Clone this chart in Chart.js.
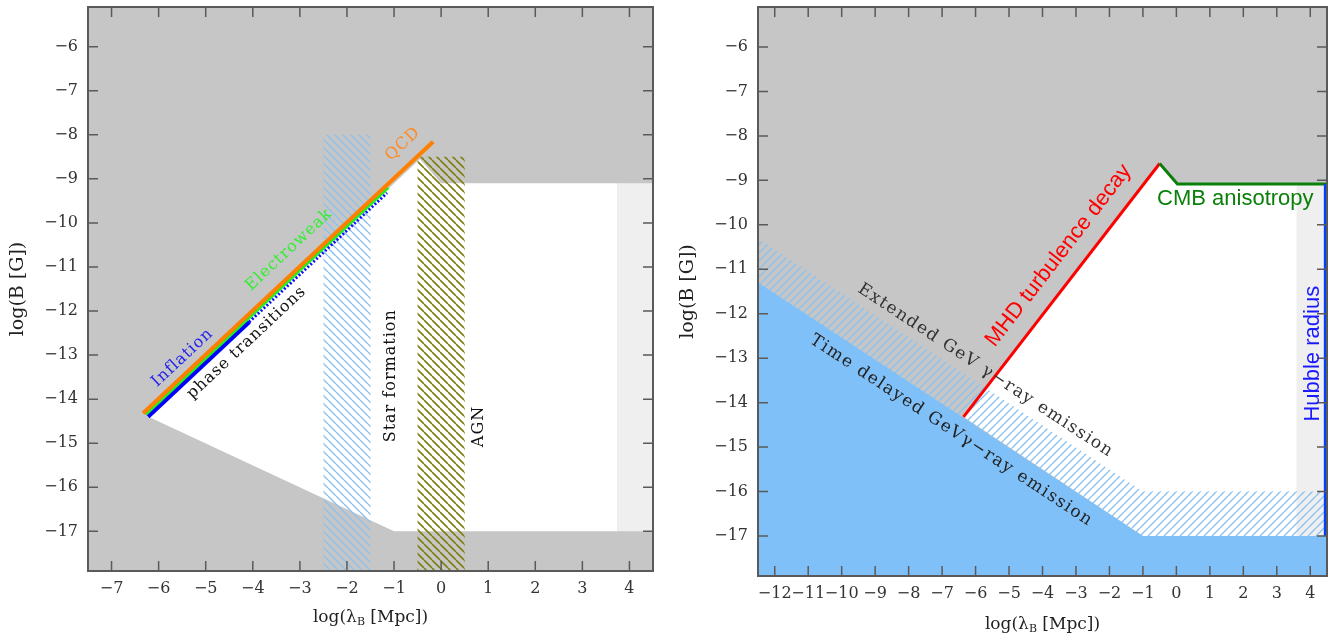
<!DOCTYPE html>
<html>
<head>
<meta charset="utf-8">
<script src="https://cdn.jsdelivr.net/npm/chart.js@4.4.0/dist/chart.umd.min.js"></script>
<style>
  html, body { margin: 0; padding: 0; background: #fff; }
  #wrap { position: relative; width: 1338px; height: 641px; overflow: hidden; }
  canvas { position: absolute; top: 0; }
  #left { left: 0; width: 665px; height: 641px; }
  #right { left: 668px; width: 670px; height: 641px; }
</style>
</head>
<body>
<div id="wrap">
  <canvas id="left" width="665" height="641"></canvas>
  <canvas id="right" width="670" height="641"></canvas>
</div>
<script>
// axis ranges and ticks
const xRangeL = [-7.5, 4.5];
const xRangeR = [-12.5, 4.5];
const yRange = [-17.9, -5.1];
const xTicksL = [-7, -6, -5, -4, -3, -2, -1, 0, 1, 2, 3, 4];
const xTicksR = [-12, -11, -10, -9, -8, -7, -6, -5, -4, -3, -2, -1, 0, 1, 2, 3, 4];
const yTicks = [-17, -16, -15, -14, -13, -12, -11, -10, -9, -8, -7, -6];

// left panel: [log lambda, log B]
const allowedL = [[-6.25, -14.38], [-0.45, -8.55], [0.0, -9.1], [3.75, -9.1], [3.75, -17], [-1, -17]];
const stripL = [[3.75, -9.1], [4.5, -9.1], [4.5, -17], [3.75, -17]];
const starBand = [[-2.5, -8.0], [-1.5, -8.0], [-1.5, -17.9], [-2.5, -17.9]];
const agnBand = [[-0.5, -8.5], [0.5, -8.5], [0.5, -17.9], [-0.5, -17.9]];
const qcdLine = [[-6.33, -14.32], [-0.17, -8.16]];
const ewLine = [[-6.28, -14.34], [-1.13, -9.19]];
const inflLine = [[-6.23, -14.39], [-4.08, -12.24]];
const ptLine = [[-4.08, -12.25], [-1.15, -9.32]];

// right panel
const allowedR = [[-6.36, -14.32], [-0.5, -8.62], [0.03, -9.08], [3.6, -9.08], [3.6, -17], [-1, -17]];
const stripR = [[3.6, -9.08], [4.5, -9.08], [4.5, -17], [3.6, -17]];
const extendedR = [[-12.5, -10.3], [-1, -16], [4.5, -16], [4.5, -17.9], [-12.5, -17.9]];
const delayedR = [[-12.5, -11.3], [-1, -17], [4.5, -17], [4.5, -17.9], [-12.5, -17.9]];
const mhdLine = [[-6.36, -14.32], [-0.5, -8.62]];
const cmbLine = [[-0.5, -8.62], [0.03, -9.08], [4.5, -9.08]];
const hubbleLine = [[4.45, -9.08], [4.45, -17]];

const SERIF = '"DejaVu Serif", serif';
const SANS = '"Liberation Sans", Arial, sans-serif';
Chart.defaults.font.family = SERIF;

const pts = (a) => a.map(([x, y]) => ({ x, y }));
const box = (xr) => [[xr[0], yRange[0]], [xr[1], yRange[0]], [xr[1], yRange[1]], [xr[0], yRange[1]]];
const fmtTick = (v) => (v < 0 ? '\u2212' + Math.abs(v) : String(v));

function hatch(ctx, color, dir, size, lw) {
  const c = document.createElement('canvas');
  c.width = c.height = size;
  const g = c.getContext('2d');
  g.strokeStyle = color;
  g.lineWidth = lw;
  g.beginPath();
  for (let k = -1; k <= 1; k++) {
    if (dir === '\\') { g.moveTo(k * size, 0); g.lineTo(k * size + size, size); }
    else { g.moveTo(k * size, size); g.lineTo(k * size + size, 0); }
  }
  g.stroke();
  return ctx.createPattern(c, 'repeat');
}

const area = (data, color) => ({
  data: pts(data), fill: 'shape', backgroundColor: color,
  borderColor: 'rgba(0,0,0,0)', borderWidth: 0, pointRadius: 0,
});
const curve = (data, color, width, dash) => ({
  data: pts(data), fill: false, borderColor: color, borderWidth: width,
  borderDash: dash || [], pointRadius: 0, borderCapStyle: 'butt',
});

function decor(notes, titleGap) {
  return {
    id: 'decor',
    afterDatasetsDraw(chart) {
      const { ctx, chartArea: a, scales: { x, y } } = chart;
      ctx.save();
      // inward ticks on all four sides + frame
      ctx.strokeStyle = '#5a5a5a';
      ctx.lineWidth = 1.5;
      ctx.beginPath();
      x.ticks.forEach((t) => {
        const p = x.getPixelForValue(t.value);
        ctx.moveTo(p, a.bottom); ctx.lineTo(p, a.bottom - 10);
        ctx.moveTo(p, a.top); ctx.lineTo(p, a.top + 10);
      });
      y.ticks.forEach((t) => {
        const p = y.getPixelForValue(t.value);
        ctx.moveTo(a.left, p); ctx.lineTo(a.left + 10, p);
        ctx.moveTo(a.right, p); ctx.lineTo(a.right - 10, p);
      });
      ctx.stroke();
      ctx.lineWidth = 2;
      ctx.strokeRect(a.left, a.top, a.width, a.height);

      // text notes
      notes.forEach((n) => {
        const px = x.getPixelForValue(n.at[0]);
        const py = y.getPixelForValue(n.at[1]);
        let ang = n.angle || 0;
        if (n.along) {
          const [p, q] = n.along;
          ang = Math.atan2(y.getPixelForValue(q[1]) - y.getPixelForValue(p[1]),
                           x.getPixelForValue(q[0]) - x.getPixelForValue(p[0])) * 180 / Math.PI;
        }
        ctx.save();
        ctx.translate(px, py);
        ctx.rotate(ang * Math.PI / 180);
        ctx.font = n.font;
        ctx.fillStyle = n.color;
        ctx.letterSpacing = n.spacing || '0px';
        ctx.textAlign = 'center';
        ctx.textBaseline = 'middle';
        ctx.fillText(n.text, 0, 0);
        ctx.restore();
      });

      // x axis title with subscript
      const big = '17px ' + SERIF, small = '11px ' + SERIF;
      const parts = [['log(\u03bb', big, 0], ['B', small, 4], [' [Mpc])', big, 0]];
      let w = 0;
      parts.forEach((p) => { ctx.font = p[1]; w += ctx.measureText(p[0]).width; });
      let cx = (a.left + a.right) / 2 - w / 2;
      const cy = a.bottom + titleGap;
      ctx.fillStyle = '#222';
      ctx.textAlign = 'left';
      ctx.textBaseline = 'middle';
      parts.forEach((p) => {
        ctx.font = p[1];
        ctx.fillText(p[0], cx, cy + p[2]);
        cx += ctx.measureText(p[0]).width;
      });
      ctx.restore();
    },
  };
}

function makeChart(id, xr, xTicks, datasets, notes, dims) {
  const n = datasets.length;
  datasets.forEach((d, i) => { d.order = n - i; d.tension = 0; });
  return new Chart(document.getElementById(id), {
    type: 'line',
    data: { datasets },
    options: {
      responsive: false,
      animation: false,
      layout: { padding: { top: 7, right: dims.right, left: 0, bottom: 0 } },
      plugins: { legend: { display: false }, tooltip: { enabled: false } },
      scales: {
        x: {
          type: 'linear', min: xr[0], max: xr[1],
          afterBuildTicks: (s) => { s.ticks = xTicks.map((v) => ({ value: v })); },
          afterFit: (s) => { s.height = dims.bottom; s.paddingLeft = 0; s.paddingRight = 0; },
          ticks: { autoSkip: false, maxRotation: 0, minRotation: 0, padding: 8, color: '#333',
                   font: { size: 16, family: SERIF }, callback: fmtTick },
          grid: { display: false, drawTicks: false },
          border: { display: false },
        },
        y: {
          type: 'linear', min: yRange[0], max: yRange[1],
          afterBuildTicks: (s) => { s.ticks = yTicks.map((v) => ({ value: v })); },
          afterFit: (s) => { s.width = dims.left; s.paddingTop = 0; s.paddingBottom = 0; },
          ticks: { padding: 10, color: '#333', font: { size: 16, family: SERIF }, callback: fmtTick },
          grid: { display: false, drawTicks: false },
          border: { display: false },
          title: { display: true, text: 'log(B [G])', color: '#222',
                   font: { size: 19, family: SERIF }, padding: { top: dims.titlePad, bottom: 0 } },
        },
      },
    },
    plugins: [decor(notes, dims.titleGap)],
  });
}

// ---- left panel
const ctxL = document.getElementById('left').getContext('2d');
makeChart('left', xRangeL, xTicksL, [
  area(box(xRangeL), '#c6c6c6'),
  area(allowedL, '#ffffff'),
  area(stripL, '#efefef'),
  area(starBand, hatch(ctxL, '#8cc2f0', '\\', 8, 1.4)),
  area(agnBand, hatch(ctxL, '#7f7f10', '\\', 8, 1.6)),
  curve(ptLine, '#1010ff', 3, [2, 2]),
  curve(inflLine, '#0000ff', 5),
  curve(ewLine, '#22ee22', 4),
  curve(qcdLine, '#ff7f00', 4),
], [
  { text: 'Inflation', at: [-5.49, -13.06], along: qcdLine, font: '16px ' + SERIF, color: '#2222ee', spacing: '1px' },
  { text: 'phase transitions', at: [-4.13, -12.72], along: qcdLine, font: '16px ' + SERIF, color: '#111', spacing: '1px' },
  { text: 'Electroweak', at: [-3.23, -10.61], along: qcdLine, font: '16px ' + SERIF, color: '#33ee33', spacing: '1px' },
  { text: 'QCD', at: [-0.81, -8.21], along: qcdLine, font: '16px ' + SERIF, color: '#ff8a20', spacing: '1px' },
  { text: 'Star formation', at: [-1.06, -13.47], angle: -90, font: '16px ' + SERIF, color: '#111', spacing: '1px' },
  { text: 'AGN', at: [0.81, -14.62], angle: -90, font: '16px ' + SERIF, color: '#111', spacing: '1px' },
], { left: 88, right: 12, bottom: 70, titlePad: 7, titleGap: 47 });

// ---- right panel
const ctxR = document.getElementById('right').getContext('2d');
makeChart('right', xRangeR, xTicksR, [
  area(box(xRangeR), '#c6c6c6'),
  area(allowedR, '#ffffff'),
  area(stripR, '#efefef'),
  area(extendedR, hatch(ctxR, '#8cc2f0', '/', 8, 1.4)),
  area(delayedR, '#80c0f8'),
  curve(mhdLine, '#ff0000', 3),
  curve(cmbLine, '#0a800a', 3),
  curve(hubbleLine, '#0040ff', 3),
], [
  { text: 'MHD turbulence decay', at: [-3.52, -10.69], along: mhdLine, font: '22px ' + SANS, color: '#ff0000' },
  { text: 'CMB anisotropy', at: [1.76, -9.41], font: '22px ' + SANS, color: '#0a800a' },
  { text: 'Hubble radius', at: [4.09, -12.9], angle: -90, font: '22px ' + SANS, color: '#1a1aff' },
  { text: 'Extended GeV \u03b3\u2212ray emission', at: [-5.70, -13.28], along: extendedR, font: '17px ' + SERIF, color: '#333', spacing: '1.5px' },
  { text: 'Time delayed GeV\u03b3\u2212ray emission', at: [-6.72, -14.63], along: delayedR, font: '17px ' + SERIF, color: '#222', spacing: '1.5px' },
], { left: 90, right: 11, bottom: 65, titlePad: 9, titleGap: 49 });
</script>
</body>
</html>
